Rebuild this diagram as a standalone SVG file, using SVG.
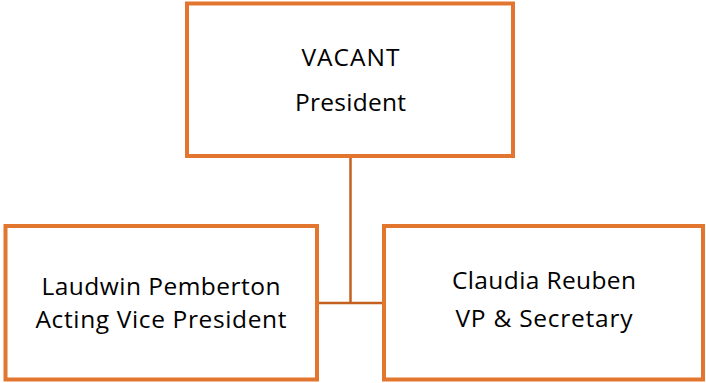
<svg xmlns="http://www.w3.org/2000/svg" width="706" height="383" viewBox="0 0 706 383">
<style>
.box{fill:#FFFFFF;stroke:#E2762F;stroke-width:4}
.lbl{font-family:"Open Sans","Noto Sans","Liberation Sans",sans-serif;font-size:24.5px;fill:#000000;text-anchor:middle}
.conn{fill:none;stroke:#C4601F;stroke-width:2.5}
</style>
<rect width="706" height="383" fill="#FFFFFF"/>
<g id="connectors">
<path class="conn" d="M350.5 158 V303"/>
<path class="conn" d="M319 303 H382"/>
</g>
<g id="president">
<rect class="box" x="187" y="3.5" width="326" height="152.5"/>
<text class="lbl" x="350.5" y="65.5" textLength="98" lengthAdjust="spacing">VACANT</text>
<text class="lbl" x="350.5" y="110.5" textLength="111" lengthAdjust="spacing">President</text>
</g>
<g id="acting-vp">
<rect class="box" x="5.5" y="226" width="311.5" height="153.5"/>
<text class="lbl" x="161" y="295" textLength="239" lengthAdjust="spacing">Laudwin Pemberton</text>
<text class="lbl" x="161" y="327.5" textLength="251" lengthAdjust="spacing">Acting Vice President</text>
</g>
<g id="vp-secretary">
<rect class="box" x="384" y="226" width="319" height="153.5"/>
<text class="lbl" x="544" y="289" textLength="184" lengthAdjust="spacing">Claudia Reuben</text>
<text class="lbl" x="544" y="326.5" textLength="177" lengthAdjust="spacing">VP &amp; Secretary</text>
</g>
</svg>
